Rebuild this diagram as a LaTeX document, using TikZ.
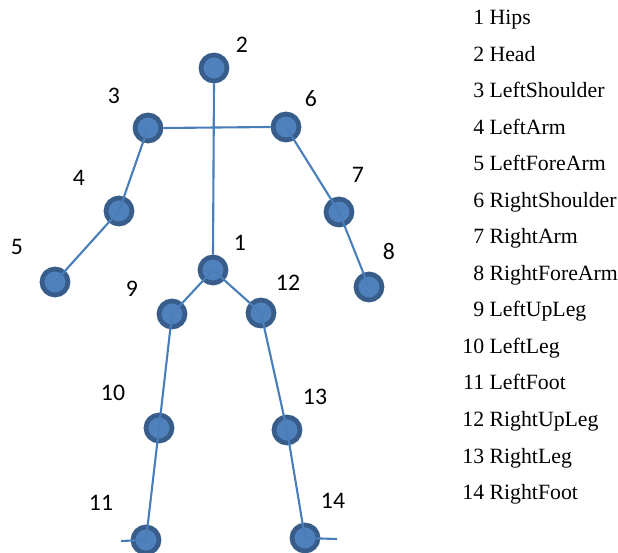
\documentclass[tikz,border=0pt]{standalone}
\usepackage{fontspec}
\setmainfont{Liberation Serif}
\newfontfamily\numfont{Carlito}
\usepackage{tikz}
\definecolor{jointfill}{HTML}{4F81BD}
\definecolor{jointedge}{HTML}{385D8A}
\definecolor{bone}{HTML}{4A7EBB}
\tikzset{
  joint/.style={circle, draw=jointedge, fill=jointfill, line width=2.7pt,
                minimum size=0.52cm, inner sep=0pt},
  bonel/.style={draw=bone, line width=1.2pt},
  jlabel/.style={font=\numfont\fontsize{13.5}{15}\selectfont, inner sep=0pt},
  legend/.style={anchor=base west, font=\fontsize{12.4}{14}\selectfont, inner sep=0pt},
}

\begin{document}
\begin{tikzpicture}[x=0.02cm, y=-0.02cm]
  \useasboundingbox (0,0) rectangle (618,553);
  % joints
  \node[joint] (hips)    at (213,270) {};
  \node[joint] (head)    at (214,68)  {};
  \node[joint] (lshould) at (148,128) {};
  \node[joint] (larm)    at (119,211) {};
  \node[joint] (lfore)   at (55,282)  {};
  \node[joint] (rshould) at (286,127) {};
  \node[joint] (rarm)    at (339,212) {};
  \node[joint] (rfore)   at (369,287) {};
  \node[joint] (lupleg)  at (172,314) {};
  \node[joint] (lleg)    at (159,428) {};
  \node[joint] (lfoot)   at (146,540) {};
  \node[joint] (rupleg)  at (261,313) {};
  \node[joint] (rleg)    at (287,430) {};
  \node[joint] (rfoot)   at (305,538) {};
  \coordinate (ltoe) at (121,541);
  \coordinate (rtoe) at (337,539);
  % bones
  \draw[bonel] (head.south) -- (hips.north);
  \draw[bonel] (lshould.east) -- (rshould.west);
  \draw[bonel] (lshould.center) -- (larm.center) -- (lfore.center);
  \draw[bonel] (rshould.center) -- (rarm.center) -- (rfore.center);
  \draw[bonel] (hips.center) -- (lupleg.center) -- (lleg.center) -- (lfoot.center) -- (ltoe);
  \draw[bonel] (hips.center) -- (rupleg.center) -- (rleg.center) -- (rfoot.center) -- (rtoe);
  % joint numbers
  \node[jlabel] (n1)  at (240,243) {1};
  \node[jlabel] (n2)  at (242,45)  {2};
  \node[jlabel] (n3)  at (114,96)  {3};
  \node[jlabel] (n4)  at (79,178)  {4};
  \node[jlabel] (n5)  at (17,247)  {5};
  \node[jlabel] (n6)  at (311,99)  {6};
  \node[jlabel] (n7)  at (358,175) {7};
  \node[jlabel] (n8)  at (389,251) {8};
  \node[jlabel] (n9)  at (132,289) {9};
  \node[jlabel] (n10) at (113,393) {10};
  \node[jlabel] (n11) at (101,503) {11};
  \node[jlabel] (n12) at (288,283) {12};
  \node[jlabel] (n13) at (315,397) {13};
  \node[jlabel] (n14) at (333,501) {14};
  % legend
  \foreach \nm [count=\i] in {Hips,Head,LeftShoulder,LeftArm,LeftForeArm,RightShoulder,
      RightArm,RightForeArm,LeftUpLeg,LeftLeg,LeftFoot,RightUpLeg,RightLeg,RightFoot}
    \node[legend] (leg\i) at (462,{25+36.5*(\i-1)}) {\makebox[1em][r]{\i} \nm};
\end{tikzpicture}
\end{document}
